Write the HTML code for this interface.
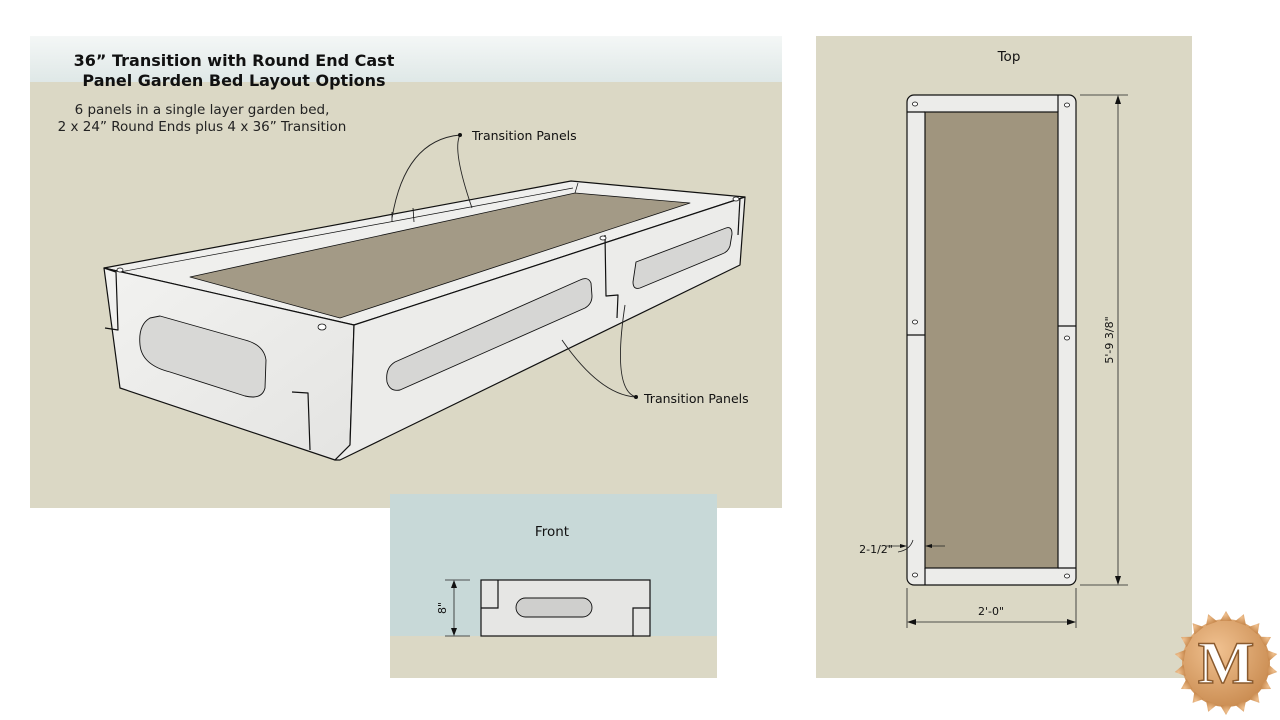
<!DOCTYPE html>
<html><head><meta charset="utf-8"><style>
body{margin:0;width:1280px;height:720px;background:#fff;position:relative;overflow:hidden;font-family:"DejaVu Sans","Liberation Sans",sans-serif}
</style></head><body>
<svg width="1280" height="720" viewBox="0 0 1280 720" xmlns="http://www.w3.org/2000/svg" style="position:absolute;left:0;top:0">
<defs>
<linearGradient id="sky" x1="0" y1="0" x2="0" y2="1"><stop offset="0" stop-color="#f4f7f6"/><stop offset="1" stop-color="#dfe8e7"/></linearGradient>
<linearGradient id="face" x1="0" y1="0" x2="1" y2="1"><stop offset="0" stop-color="#f2f2f0"/><stop offset="1" stop-color="#e4e4e2"/></linearGradient>
<radialGradient id="gear" cx="0.4" cy="0.35" r="0.7"><stop offset="0" stop-color="#f0c190"/><stop offset="1" stop-color="#c98b50"/></radialGradient>
</defs>
<rect x="30" y="36" width="752" height="472" fill="#dbd8c5"/>
<rect x="30" y="36" width="752" height="46" fill="url(#sky)"/>
<text x="234" y="66" text-anchor="middle" font-size="16" font-weight="bold" fill="#111">36” Transition with Round End Cast</text>
<text x="234" y="86" text-anchor="middle" font-size="16" font-weight="bold" fill="#111">Panel Garden Bed Layout Options</text>
<text x="202" y="114" text-anchor="middle" font-size="13.5" fill="#222">6 panels in a single layer garden bed,</text>
<text x="202" y="131" text-anchor="middle" font-size="13.5" fill="#222">2 x 24” Round Ends plus 4 x 36” Transition</text>

<g stroke="#111" stroke-width="1.2" stroke-linejoin="round">
<polygon points="104,268 571,181 745,197 354,325" fill="#efefed"/>
<polygon points="190,277 575,193 690,203 340,318" fill="#a39a86" stroke-width="0.8"/>
<path d="M120,272 L573,188 M575,193 L578,183" fill="none" stroke-width="0.7"/>
<polygon points="104,268 354,325 350,445 335,460 120,388" fill="url(#face)"/>
<polygon points="354,325 745,197 740,265 340,460 335,460 350,445" fill="#ececea"/>
<path d="M104,268 L116,272 L118,330 L105,328" fill="none"/>
<path d="M292,392 L308,393 L310,450" fill="none"/>
<path d="M605,235 L606,296 L618,295 L617,318" fill="none"/>
<path d="M740,198 L738,235" fill="none"/>
<path d="M392,212 L392,222 M413,208 L414,222" fill="none" stroke-width="0.8"/>
<path d="M150,318 Q138,325 140,345 Q142,365 170,372 L245,396 Q262,400 265,388 L266,360 Q264,345 245,340 L160,316 Z" fill="#d8d8d6" stroke-width="0.9"/>
<path d="M395,362 Q385,368 387,382 Q390,392 400,390 L585,308 Q592,304 592,296 L591,283 Q588,276 580,280 Z" fill="#d6d6d4" stroke-width="0.9"/>
<path d="M636,262 L726,228 Q732,226 732,234 L730,246 Q728,252 722,254 L640,288 Q633,290 633,282 Z" fill="#d6d6d4" stroke-width="0.9"/>
</g>
<g fill="#fff" stroke="#111" stroke-width="0.8">
<ellipse cx="322" cy="327" rx="4" ry="3"/><ellipse cx="120" cy="270" rx="3" ry="2"/><ellipse cx="603" cy="238" rx="3" ry="2"/><ellipse cx="736" cy="199" rx="3" ry="2"/>
</g>
<g fill="none" stroke="#222" stroke-width="0.9">
<path d="M460,135 Q405,140 392,218"/>
<path d="M460,135 Q452,150 472,208"/>
<path d="M636,397 Q600,395 562,340"/>
<path d="M636,397 Q612,390 625,305"/>
</g>
<circle cx="460" cy="135" r="2" fill="#111"/><circle cx="636" cy="397" r="2" fill="#111"/>
<text x="472" y="140" font-size="12.5" fill="#111">Transition Panels</text>
<text x="644" y="403" font-size="12.5" fill="#111">Transition Panels</text>

<rect x="390" y="494" width="327" height="142" fill="#c8d9d8"/>
<rect x="390" y="636" width="327" height="42" fill="#dbd8c5"/>
<text x="552" y="536" text-anchor="middle" font-size="13.5" fill="#111">Front</text>
<g stroke="#111" stroke-width="1.2">
<rect x="481" y="580" width="169" height="56" fill="#e6e6e4"/>
<path d="M481,608 L498,608 L498,580 M650,608 L633,608 L633,636" fill="none"/>
<rect x="516" y="598" width="76" height="19" rx="9.5" fill="#cfcfcd" stroke-width="0.9"/>
</g>
<g stroke="#222" stroke-width="0.8" fill="none">
<path d="M445,580 L470,580 M445,636 L470,636 M454,582 L454,634"/>
</g>
<path d="M454,580 l-3,8 h6z M454,636 l-3,-8 h6z" fill="#111"/>
<text transform="translate(446,608) rotate(-90)" text-anchor="middle" font-size="11" fill="#111">8"</text>

<rect x="816" y="36" width="376" height="642" fill="#dbd8c5"/>
<text x="1009" y="61" text-anchor="middle" font-size="13.5" fill="#111">Top</text>
<g stroke="#111" stroke-width="1.2">
<rect x="907" y="95" width="169" height="490" rx="7" fill="#ececea"/>
<rect x="925" y="112" width="133" height="456" fill="#a0957e"/>
<path d="M907,112 L925,112 M1058,95 L1058,112 M925,568 L925,585 M1058,568 L1076,568 M907,335 L925,335 M1058,326 L1076,326" fill="none"/>
</g>
<g fill="#fff" stroke="#111" stroke-width="0.8">
<ellipse cx="915" cy="104" rx="2.5" ry="2"/><ellipse cx="1067" cy="105" rx="2.5" ry="2"/><ellipse cx="915" cy="575" rx="2.5" ry="2"/><ellipse cx="1067" cy="576" rx="2.5" ry="2"/><ellipse cx="915" cy="322" rx="2.5" ry="2"/><ellipse cx="1067" cy="338" rx="2.5" ry="2"/>
</g>
<g stroke="#222" stroke-width="0.8" fill="none">
<path d="M1080,95 L1128,95 M1080,585 L1128,585 M1118,97 L1118,583"/>
<path d="M907,588 L907,628 M1076,588 L1076,628 M909,622 L1074,622"/>
<path d="M886,546 L905,546 M927,546 L945,546 M898,552 Q910,550 913,540"/>
</g>
<path d="M1118,95 l-3,9 h6z M1118,585 l-3,-9 h6z M907,622 l9,-3 v6z M1076,622 l-9,-3 v6z M907,546 l-7,-2 v4z M925,546 l7,-2 v4z" fill="#111"/>
<text transform="translate(1113,340) rotate(-90)" text-anchor="middle" font-size="11" fill="#111">5'-9 3/8"</text>
<text x="991" y="615" text-anchor="middle" font-size="11" fill="#111">2'-0"</text>
<text x="876" y="553" text-anchor="middle" font-size="11" fill="#111">2-1/2"</text>

<g transform="translate(1226,663)" fill="url(#gear)">
<circle r="44"/>
<polygon points="0,-52 6,-42 -6,-42"/><polygon points="0,-52 6,-42 -6,-42" transform="rotate(20)"/><polygon points="0,-52 6,-42 -6,-42" transform="rotate(40)"/><polygon points="0,-52 6,-42 -6,-42" transform="rotate(60)"/><polygon points="0,-52 6,-42 -6,-42" transform="rotate(80)"/><polygon points="0,-52 6,-42 -6,-42" transform="rotate(100)"/><polygon points="0,-52 6,-42 -6,-42" transform="rotate(120)"/><polygon points="0,-52 6,-42 -6,-42" transform="rotate(140)"/><polygon points="0,-52 6,-42 -6,-42" transform="rotate(160)"/><polygon points="0,-52 6,-42 -6,-42" transform="rotate(180)"/><polygon points="0,-52 6,-42 -6,-42" transform="rotate(200)"/><polygon points="0,-52 6,-42 -6,-42" transform="rotate(220)"/><polygon points="0,-52 6,-42 -6,-42" transform="rotate(240)"/><polygon points="0,-52 6,-42 -6,-42" transform="rotate(260)"/><polygon points="0,-52 6,-42 -6,-42" transform="rotate(280)"/><polygon points="0,-52 6,-42 -6,-42" transform="rotate(300)"/><polygon points="0,-52 6,-42 -6,-42" transform="rotate(320)"/><polygon points="0,-52 6,-42 -6,-42" transform="rotate(340)"/>
<text x="0" y="20" text-anchor="middle" font-family="Liberation Serif,serif" font-weight="bold" font-size="60" fill="#fff" stroke="#8a5a2e" stroke-width="1.5">M</text>
</g>
</svg>
</body></html>
